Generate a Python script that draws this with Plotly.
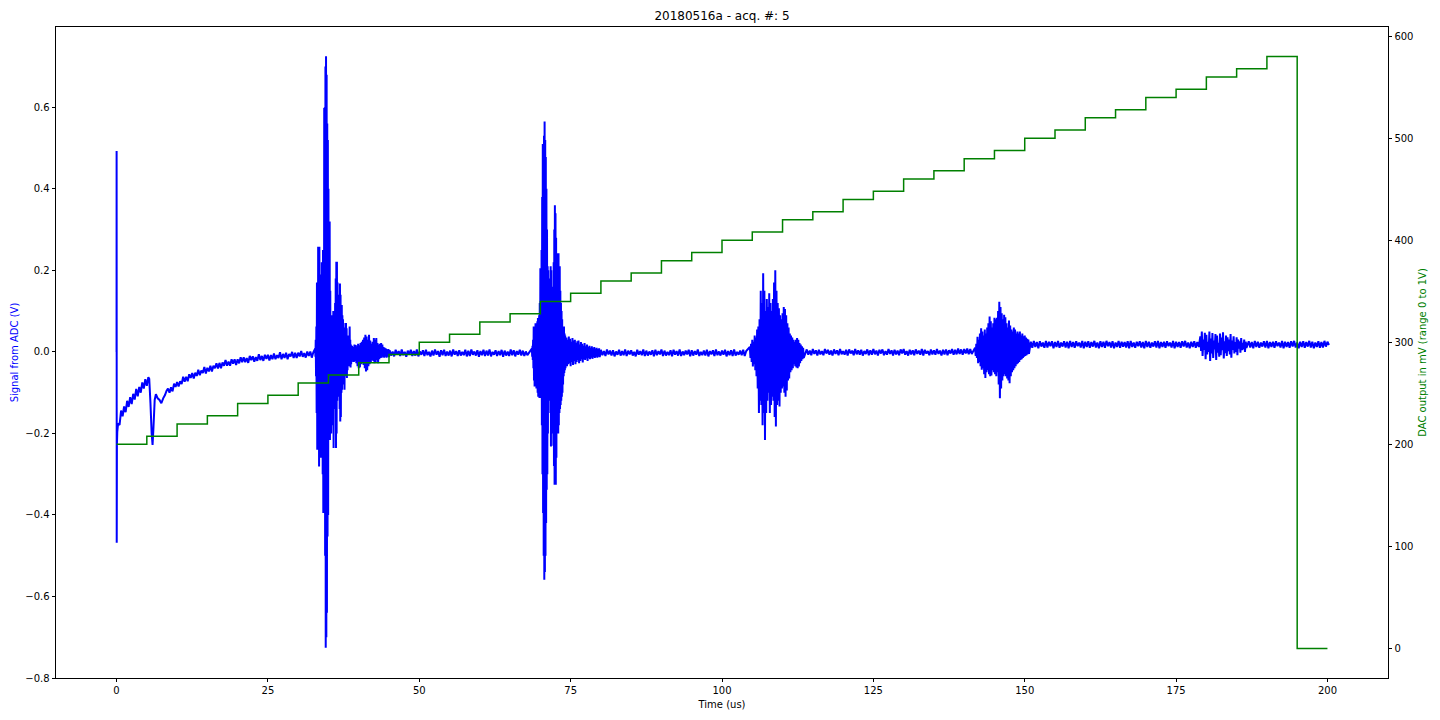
import plotly.graph_objects as go

# ---------------- DAC staircase (right axis, mV) ----------------
dac_time_us = [0, 5, 10, 15, 20, 25, 30, 35, 40, 45, 50, 55, 60, 65, 70, 75, 80, 85, 90, 95,
               100, 105, 110, 115, 120, 125, 130, 135, 140, 145, 150, 155, 160, 165, 170, 175,
               180, 185, 190, 195, 200]
dac_mV = [200, 208, 220, 228, 240, 248, 260, 268, 280, 288, 300, 308, 320, 328, 340, 348, 360,
          368, 380, 388, 400, 408, 420, 428, 440, 448, 460, 468, 480, 488, 500, 508, 520, 528,
          540, 548, 560, 568, 580, 0, 0]

# ---------------- ADC signal (left axis), values in mV ----------------
spike_t = [0.0, 0.01, 0.03, 0.06, 0.12]
spike_mV = [0, 493, -468, -230, -196]

early_t0, early_dt = 0.25, 0.25
early_mV = [-176, -179, -144, -158, -134, -148, -120, -135, -111, -128, -103, -117, -91, -109,
            -86, -100, -75, -90, -67, -83, -62]

dip_t = [5.4, 5.6, 5.8, 5.95, 6.1, 6.3, 6.5, 6.8, 7.1, 7.4, 7.7, 8.0, 8.25]
dip_mV = [-66, -125, -200, -228, -185, -118, -104, -114, -118, -126, -114, -106, -96]

settle_t0, settle_dt = 8.5, 0.25
settle_mV = [-90, -100, -87, -97, -78, -86, -74, -85, -72, -79, -61, -73, -61, -72, -55, -64,
             -52, -65, -51, -59, -44, -57, -46, -52, -37, -53, -39, -48, -34, -48, -34, -40,
             -28, -41, -27, -40, -26, -34, -20, -34, -24, -34, -18, -29, -18, -32, -18, -28,
             -13, -25, -13, -25, -15, -27, -10, -20, -11, -24, -13, -22, -6, -20, -10, -22, -7,
             -17, -7, -21, -8, -18, -4, -18, -8, -15, -1, -18, -5, -15, -2, -18, -5, -11, 0,
             -15, -2, -15, -2, -11, 2, -12, -3, -14, 1, -10, 1, -14, -1]

burst1_t0, burst1_step = 32.8, 0.1
burst1_upper_mV = [8, 30, 62, 170, 120, 258, 200, 258, 150, 190, 180, 220, 170, 250, 230, 598,
                   600, 700, 725, 680, 560, 520, 400, 320, 320, 150, 80, 60, 90, 70, 100, 60, 90,
                   120, 180, 221, 221, 170, 140, 120, 100, 168, 140, 110, 115, 90, 80, 71, 60, 50,
                   55, 71, 58, 40, 30, 25, 40, 62, 30, 18, 12]
burst1_lower_mV = [-12, -60, -150, -240, -200, -230, -281, -180, -260, -220, -260, -240, -300,
                   -395, -380, -395, -500, -726, -700, -640, -453, -400, -216, -200, -216, -150,
                   -200, -180, -120, -150, -236, -120, -100, -140, -236, -200, -120, -101, -90,
                   -110, -140, -171, -160, -100, -93, -80, -70, -64, -93, -60, -45, -50, -64, -45,
                   -35, -30, -28, -35, -38, -30, -25]

burst1_tail_t0, burst1_tail_step = 38.9, 0.2
burst1_tail_upper_mV = [15, 12, 18, 17, 14, 20, 16, 22, 25, 30, 35, 42, 38, 30, 42, 28, 20, 25,
                        34, 30, 34, 22, 18, 20, 22, 18, 12, 10, 8, 6, 7]
burst1_tail_lower_mV = [-20, -25, -22, -28, -35, -40, -38, -30, -25, -32, -40, -48, -45, -35,
                        -30, -25, -20, -22, -28, -26, -20, -28, -18, -15, -14, -12, -14, -12,
                        -14, -12, -13]

quiet2_t0, quiet2_dt = 45.1, 0.25
quiet2_mV = [4, -9, 1, -11, 5, -7, 2, -10, 6, -8, 0, -12, 3, -6, 5, -10, 2, -9, 6, -11,
             1, -7, 4, -10, 5, -8, 0, -11, 3, -9, 6, -7, 2, -12, 4, -8, 5, -10, 1, -9,
             3, -11, 6, -7, 2, -10, 4, -9, 0, -8, 5, -11, 3, -10, 6, -7, 1, -9, 4, -12,
             2, -8, 5, -10, 3, -9, 6, -11, 0, -7, 4, -10, 2, -8, 5, -12, 3, -9, 1, -10,
             6, -8, 4, -11, 2, -7, 5, -9, 3, -10, 1, -8]

burst2_t0, burst2_step = 68.6, 0.1
burst2_upper_mV = [8, 15, 30, 62, 50, 62, 70, 55, 62, 75, 83, 80, 90, 120, 205, 150, 250, 380,
                   510, 480, 530, 565, 520, 478, 400, 300, 210, 200, 150, 130, 180, 210, 200, 150,
                   120, 160, 220, 300, 360, 340, 280, 242, 220, 200, 242, 180, 210, 150, 120, 100,
                   80, 62, 55, 62, 45, 40]
burst2_lower_mV = [-12, -20, -40, -70, -85, -80, -85, -90, -85, -100, -110, -100, -113, -105,
                   -113, -110, -180, -300, -395, -500, -559, -540, -500, -420, -338, -300, -200,
                   -120, -100, -110, -150, -232, -200, -180, -160, -230, -280, -326, -300, -326,
                   -260, -200, -180, -200, -180, -150, -140, -130, -120, -110, -100, -80, -60,
                   -52, -45, -40]

burst2_tail_t0, burst2_tail_step = 74.3, 0.2
burst2_tail_upper_mV = [35, 30, 38, 32, 25, 34, 28, 30, 22, 26, 28, 18, 24, 20, 15, 22, 14, 18,
                        12, 15, 10, 14, 9, 12, 8, 10, 7, 9]
burst2_tail_lower_mV = [-35, -30, -28, -35, -25, -32, -22, -30, -25, -20, -28, -22, -18, -26,
                        -18, -20, -16, -22, -15, -18, -14, -17, -13, -15, -12, -14, -12, -13]

quiet3_t0, quiet3_dt = 80.0, 0.25
quiet3_mV = [5, -8, 2, -10, 6, -6, 3, -9, 4, -11, 1, -7, 5, -9, 2, -8, 6, -10, 3, -6,
             4, -9, 0, -11, 5, -7, 2, -8, 6, -10, 3, -9, 1, -7, 4, -11, 5, -8, 2, -6,
             6, -10, 3, -9, 0, -8, 4, -11, 5, -7, 2, -9, 6, -10, 1, -8, 3, -6, 5, -11,
             4, -9, 2, -7, 6, -10, 0, -8, 3, -9, 5, -11, 2, -6, 4, -10, 6, -8, 1, -9,
             3, -7, 5, -11, 2, -8, 4, -10, 6, -9, 0, -7, 3, -8, 5, -10, 2]

burst3_t0, burst3_step = 104.6, 0.2
burst3_upper_mV = [12, 20, 30, 25, 40, 35, 55, 62, 80, 150, 120, 193, 150, 100, 130, 110, 144,
                   120, 100, 130, 170, 200, 150, 120, 107, 90, 80, 95, 110, 105, 90, 70, 60, 45,
                   40, 35, 30, 25, 30, 34, 30, 22, 18, 14, 10]
burst3_lower_mV = [-15, -25, -36, -30, -45, -60, -90, -150, -120, -130, -180, -150, -216, -150,
                   -120, -100, -150, -130, -110, -120, -160, -183, -130, -120, -134, -100, -90,
                   -85, -100, -110, -95, -70, -65, -50, -45, -40, -30, -35, -38, -40, -36, -28,
                   -22, -18, -15]

quiet4_t0, quiet4_dt = 114.0, 0.25
quiet4_mV = [6, -7, 3, -8, 7, -5, 4, -9, 5, -6, 2, -8, 7, -4, 5, -7, 3, -9, 6, -5,
             4, -8, 7, -6, 2, -7, 5, -9, 6, -4, 3, -8, 7, -6, 4, -7, 5, -9, 2, -5,
             6, -8, 4, -7, 7, -6, 3, -9, 5, -4, 6, -8, 2, -7, 7, -5, 4, -9, 5, -6,
             3, -8, 6, -4, 7, -7, 2, -9, 5, -6, 4, -8, 6, -5, 3, -7, 7, -9, 5, -4,
             2, -8, 6, -6, 4, -7, 7, -5, 3, -9, 5, -6, 6, -8, 4, -4, 7, -7, 5, -6,
             8, -5, 6, -7, 7, -4, 8, -6, 7, -5]

burst4_t0, burst4_step = 141.8, 0.2
burst4_upper_mV = [10, 20, 37, 30, 45, 58, 50, 40, 55, 45, 60, 70, 87, 75, 60, 70, 84, 80, 84,
                   100, 123, 110, 95, 80, 91, 85, 70, 60, 77, 65, 55, 50, 60, 55, 45, 50, 45, 50,
                   40, 45, 38, 40, 35, 32, 30]
burst4_lower_mV = [-10, -15, -28, -25, -35, -44, -40, -55, -64, -50, -45, -55, -60, -58, -45,
                   -50, -55, -60, -50, -80, -114, -90, -70, -60, -55, -60, -65, -70, -77, -60,
                   -50, -45, -40, -35, -30, -28, -25, -20, -18, -15, -12, -10, -8, -6, -5]

quiet5_t0, quiet5_dt = 151.0, 0.25
quiet5_mV = [25, 10, 27, 12, 24, 9, 26, 13, 23, 10, 27, 11, 25, 14, 26, 9, 24, 12, 27, 10,
             23, 13, 26, 11, 25, 9, 27, 12, 24, 10, 26, 14, 23, 11, 27, 9, 25, 12, 26, 10,
             24, 13, 27, 11, 23, 9, 26, 12, 25, 10, 27, 14, 24, 11, 26, 9, 23, 12, 27, 10,
             25, 13, 24, 11, 26, 9, 27, 12, 23, 10, 25, 14, 26, 11, 24, 9, 27, 12, 25, 10,
             23, 13, 26, 11, 27, 9, 24, 12, 25, 10, 26, 14, 23, 11, 27, 9, 25, 12, 24, 10,
             26, 13, 27, 11, 23, 9, 25, 12, 26, 10, 24, 12]

burst5_t0, burst5_step = 179.0, 0.25
burst5_upper_mV = [38, 50, 30, 47, 42, 25, 50, 33, 46, 28, 44, 40, 22, 45, 35, 48, 26, 40, 36,
                   30, 44, 28, 38, 24, 36, 30, 26, 34, 22, 30, 25]
burst5_lower_mV = [2, -10, 5, -18, -6, 0, -22, -4, -15, 6, -20, -2, -12, -8, 4, -16, -3, -10, 2,
                   -6, -14, 5, -4, 0, -8, 8, -2, 4, 6, 0, 10]

quiet6_t0, quiet6_dt = 187.0, 0.25
quiet6_mV = [26, 11, 24, 9, 27, 12, 25, 10, 23, 13, 26, 11, 27, 9, 24, 12, 25, 10, 26, 14,
             23, 11, 27, 9, 25, 12, 24, 10, 26, 13, 27, 11, 23, 9, 25, 12, 26, 10, 24, 13,
             27, 11, 25, 9, 23, 12, 26, 10, 24, 11, 27, 13, 25, 17]


def sampled(t0, dt, vals):
    return [t0 + i * dt for i in range(len(vals))], list(vals)


def paired(t0, step, upper, lower):
    ts, vs = [], []
    for i, (u, l) in enumerate(zip(upper, lower)):
        ts += [t0 + i * step, t0 + i * step + step / 2]
        vs += [u, l]
    return ts, vs


pieces = [
    (spike_t, spike_mV),
    sampled(early_t0, early_dt, early_mV),
    (dip_t, dip_mV),
    sampled(settle_t0, settle_dt, settle_mV),
    paired(burst1_t0, burst1_step, burst1_upper_mV, burst1_lower_mV),
    paired(burst1_tail_t0, burst1_tail_step, burst1_tail_upper_mV, burst1_tail_lower_mV),
    sampled(quiet2_t0, quiet2_dt, quiet2_mV),
    paired(burst2_t0, burst2_step, burst2_upper_mV, burst2_lower_mV),
    paired(burst2_tail_t0, burst2_tail_step, burst2_tail_upper_mV, burst2_tail_lower_mV),
    sampled(quiet3_t0, quiet3_dt, quiet3_mV),
    paired(burst3_t0, burst3_step, burst3_upper_mV, burst3_lower_mV),
    sampled(quiet4_t0, quiet4_dt, quiet4_mV),
    paired(burst4_t0, burst4_step, burst4_upper_mV, burst4_lower_mV),
    sampled(quiet5_t0, quiet5_dt, quiet5_mV),
    paired(burst5_t0, burst5_step, burst5_upper_mV, burst5_lower_mV),
    sampled(quiet6_t0, quiet6_dt, quiet6_mV),
]

adc_t, adc_V = [], []
for ts, vs in pieces:
    adc_t += ts
    adc_V += [v / 1000.0 for v in vs]

FONT = "DejaVu Sans"
# the page body adds an 8px offset, so the figure is drawn 8px smaller and shifted
FIG_W, FIG_H = 1432, 712

fig = go.Figure()
fig.add_trace(go.Scatter(x=adc_t, y=adc_V, mode="lines",
                         line=dict(color="#0000ff", width=2, simplify=False),
                         yaxis="y", showlegend=False))
fig.add_trace(go.Scatter(x=dac_time_us, y=dac_mV, mode="lines",
                         line=dict(color="#008000", width=1.5, shape="hv"),
                         yaxis="y2", showlegend=False))

axis_common = dict(showgrid=False, zeroline=False, showline=True, linecolor="black",
                   linewidth=0.8, ticks="outside", ticklen=3.5, tickwidth=0.8,
                   tickcolor="black", automargin=False,
                   tickfont=dict(family=FONT, size=10, color="black"))

fig.update_layout(
    width=FIG_W, height=FIG_H,
    margin=dict(l=48, r=52, t=19, b=42, autoexpand=False),
    paper_bgcolor="white", plot_bgcolor="white",
    font=dict(family=FONT, size=10, color="black"),
    title=dict(text="20180516a - acq. #: 5", x=0.5, xref="paper", xanchor="center",
               y=1 - 8 / FIG_H, yref="container", yanchor="middle",
               font=dict(family=FONT, size=12, color="black")),
    xaxis=dict(range=[-10, 210], tickvals=[0, 25, 50, 75, 100, 125, 150, 175, 200],
               mirror=True,
               title=dict(text="Time (us)", standoff=5,
                          font=dict(family=FONT, size=10, color="black")),
               **axis_common),
    yaxis=dict(range=[-0.8, 0.797], tickvals=[-0.8, -0.6, -0.4, -0.2, 0.0, 0.2, 0.4, 0.6],
               tickformat=".1f",
               title=dict(text="Signal from ADC (V)", standoff=4,
                          font=dict(family=FONT, size=10, color="#0000ff")),
               **axis_common),
    yaxis2=dict(range=[-29, 609], tickvals=[0, 100, 200, 300, 400, 500, 600],
                overlaying="y", side="right",
                title=dict(text="DAC output in mV (range 0 to 1V)", standoff=6,
                           font=dict(family=FONT, size=10, color="#008000")),
                **axis_common),
)

fig.write_html("out.html")
